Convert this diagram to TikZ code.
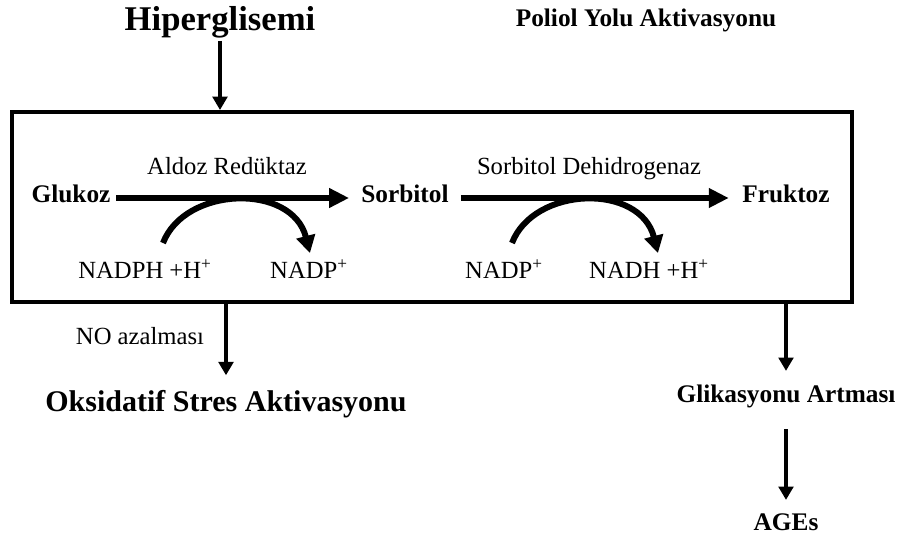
\documentclass[tikz,border=0pt]{standalone}
\usepackage{fontspec}
\setmainfont{Liberation Serif}
\usetikzlibrary{arrows.meta,positioning}
\tikzset{
  pytext/.style={inner sep=2pt, font=\fontsize{18.5}{20}\selectfont},
  pybold/.style={inner sep=2pt, font=\fontsize{19}{21}\selectfont\bfseries},
  pyarr/.style={-{Triangle[length=10pt, width=11pt]}, line width=2.4pt},
  pyflow/.style={-{Triangle[length=15pt, width=14pt]}, line width=4pt},
  pycurve/.style={-{Triangle[length=13pt, width=14pt]}, line width=4.5pt}
}

\begin{document}
\begin{tikzpicture}[x=0.75pt, y=-0.75pt]
  \useasboundingbox (0,0) rectangle (901,539);
  \node[pybold, font=\fontsize{26}{28}\selectfont\bfseries] (hiper) at (220,22) {Hiperglisemi};
  \node[pybold] (poliol) at (646,20) {Poliol Yolu Aktivasyonu};
  \node[draw, line width=3pt, minimum width=630pt, minimum height=142.5pt] (box) at (432,207) {};
  \draw[pyarr] (hiper.south) -- (hiper.south |- box.north);
  % poliol yolu
  \node[pybold, anchor=base] (glukoz) at (71,202) {Glukoz};
  \node[pybold, anchor=base] (sorbitol) at (405,202) {Sorbitol};
  \node[pybold, anchor=base] (fruktoz) at (786,202) {Fruktoz};
  \node[pytext, anchor=base] (aldoz) at (227,174) {Aldoz Redüktaz};
  \node[pytext, anchor=base] (sdh) at (589,174) {Sorbitol Dehidrogenaz};
  \draw[pyflow, shorten <=2pt, shorten >=7pt] ([yshift=3pt]glukoz.base east) -- ([yshift=3pt]sorbitol.base west);
  \draw[pyflow, shorten <=7pt, shorten >=8pt] ([yshift=3pt]sorbitol.base east) -- ([yshift=3pt]fruktoz.base west);
  \node[pytext, anchor=base] (nadph) at (145,278) {NADPH +H\textsuperscript{+}};
  \node[pytext, anchor=base] (nadpa) at (309,278) {NADP\textsuperscript{+}};
  \node[pytext, anchor=base] (nadpb) at (504,278) {NADP\textsuperscript{+}};
  \node[pytext, anchor=base] (nadh) at (649,278) {NADH +H\textsuperscript{+}};
  \coordinate (ara) at (163,243);
  \coordinate (arb) at (310,253);
  \coordinate (sda) at (512,243);
  \coordinate (sdb) at (658,253);
  \draw[pycurve] (ara) .. controls (185,186) and (292,183) .. (arb);
  \draw[pycurve] (sda) .. controls (534,186) and (640,183) .. (sdb);
  % sonuclar
  \node[pybold, font=\fontsize{22.5}{25}\selectfont\bfseries] (oksid) at (226,404) {Oksidatif Stres Aktivasyonu};
  \node[pytext] (noaz) at (140,336) {NO azalması};
  \draw[pyarr, shorten >=9pt] (box.south -| oksid.north) -- (oksid.north);
  \node[pybold] (glik) at (786,396) {Glikasyonu Artması};
  \node[pybold] (ages) at (786,522) {AGEs};
  \draw[pyarr, shorten >=8pt] (box.south -| glik.north) -- (glik.north);
  \draw[pyarr, shorten <=14pt, shorten >=8pt] (glik.south) -- (ages.north);
\end{tikzpicture}
\end{document}
